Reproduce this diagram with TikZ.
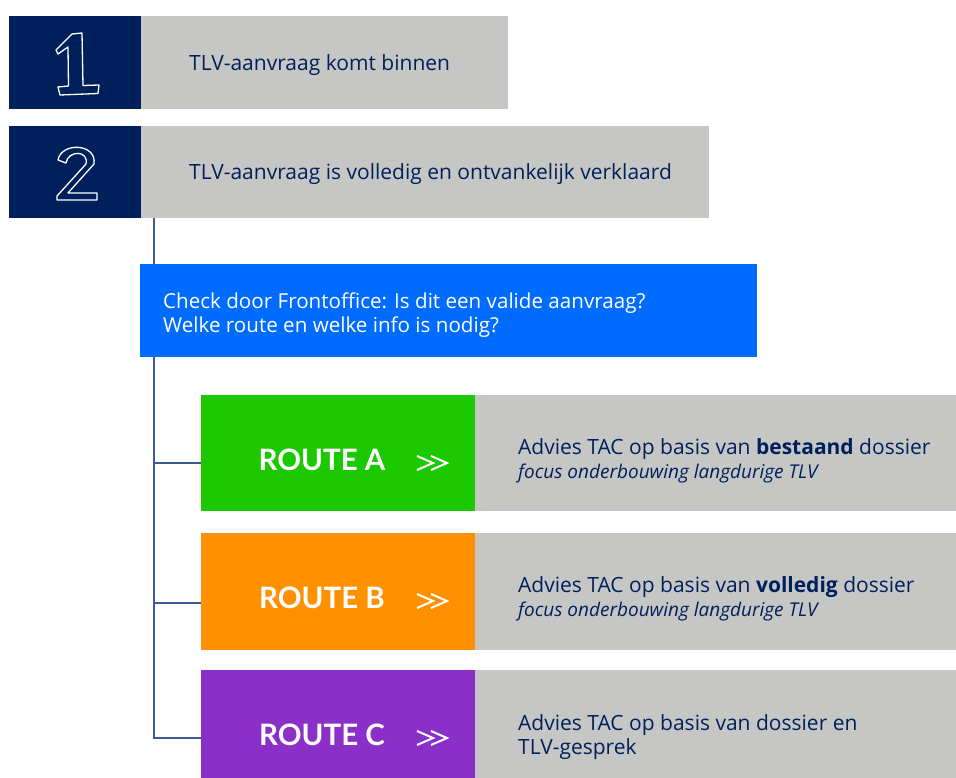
\documentclass[tikz,border=0pt]{standalone}
\usepackage{fontspec}
\setmainfont{Open Sans}
\newfontfamily\routefont{Lato}
\usetikzlibrary{backgrounds}

\definecolor{navy}{HTML}{00205B}
\definecolor{tlvgray}{HTML}{C6C6C5}
\definecolor{tlvblue}{HTML}{006CFF}
\definecolor{routeA}{HTML}{1CC800}
\definecolor{routeB}{HTML}{FF9100}
\definecolor{routeC}{HTML}{8A30C8}
\definecolor{lijnkleur}{HTML}{3B5A96}

\newcommand{\focus}{{\itshape\fontsize{19}{24}\selectfont focus onderbouwing langdurige TLV}}

\tikzset{
  vak/.style={rectangle, inner sep=0pt, outer sep=0pt, anchor=north west},
  tekst/.style={anchor=west, align=left, inner sep=0pt, text=navy,
    font=\fontsize{21}{24}\selectfont},
  routetekst/.style={inner sep=0pt, text=white,
    font=\routefont\bfseries\fontsize{29.5}{32}\selectfont},
  lijn/.style={draw=lijnkleur, line width=1.8pt},
  cijfer/.style={draw=white, line width=1.3pt, line join=round}
}

\begin{document}
\begin{tikzpicture}[x=1pt, y=-1pt]
	\useasboundingbox (0,0) rectangle (956,778);
	% stap 1 en 2
	\node[vak, fill=navy, minimum width=132pt, minimum height=93pt] (n1) at (9,16) {};
	\node[vak, fill=tlvgray, minimum width=367pt, minimum height=93pt] (s1) at (141,16) {};
	\node[tekst] (t1) at (189,65) {TLV-aanvraag komt binnen};
	\node[vak, fill=navy, minimum width=132pt, minimum height=92pt] (n2) at (9,126) {};
	\node[vak, fill=tlvgray, minimum width=568pt, minimum height=92pt] (s2) at (141,126) {};
	\node[tekst] (t2) at (189,174) {TLV-aanvraag is volledig en ontvankelijk verklaard};
	% handgetekende cijfers
	\draw[cijfer] (72,34) -- (56,50) -- (58,54) -- (68,47) -- (68.5,86) -- (58,87)
		-- (60,95) -- (98,93.5) -- (99,85) -- (83,85.5) -- (82,33) -- cycle;
	\draw[cijfer] (58,160) .. controls (61,142) and (97,143) .. (94,164) -- (68,193)
		-- (97,193) -- (97,200) -- (57,200) -- (57,196) -- (86,164)
		.. controls (89,150) and (68,150) .. (66,163) -- cycle;
	% frontoffice
	\node[vak, fill=tlvblue, minimum width=617pt, minimum height=93pt] (fo) at (140,264) {};
	\node[tekst, text=white, font=\fontsize{20.6}{24}\selectfont] (tfo) at (163,315) {Check door Frontoffice: Is dit een valide aanvraag?\\Welke route en welke info is nodig?};
	% routes
	\node[vak, fill=routeA, minimum width=274pt, minimum height=116pt] (ra) at (201,395) {};
	\node[vak, fill=tlvgray, minimum width=481pt, minimum height=116pt] (sa) at (475,395) {};
	\node[routetekst] (la) at (322,460) {ROUTE A};
	\node[tekst] (ta) at (518,461) {Advies TAC op basis van \textbf{bestaand} dossier\\\focus};
	\node[vak, fill=routeB, minimum width=274pt, minimum height=117pt] (rb) at (201,533) {};
	\node[vak, fill=tlvgray, minimum width=481pt, minimum height=117pt] (sb) at (475,533) {};
	\node[routetekst] (lb) at (322,598) {ROUTE B};
	\node[tekst] (tb) at (518,599) {Advies TAC op basis van \textbf{volledig} dossier\\\focus};
	\node[vak, fill=routeC, minimum width=274pt, minimum height=108pt] (rc) at (201,670) {};
	\node[vak, fill=tlvgray, minimum width=481pt, minimum height=108pt] (sc) at (475,670) {};
	\node[routetekst] (lc) at (322,735) {ROUTE C};
	\node[tekst] (tc) at (518,737) {Advies TAC op basis van dossier en\\TLV-gesprek};
	% pijltjes
	\foreach \y in {463,601,738} {
		\draw[white, line width=2pt] (417,\y-7) -- (433,\y) -- (417,\y+7);
		\draw[white, line width=2pt] (431,\y-7) -- (447,\y) -- (431,\y+7);
	}
	% verbindingslijnen
	\coordinate (stam) at ([xshift=13pt]s2.south west);
	\begin{scope}[on background layer]
		\draw[lijn] (stam) |- ([yshift=-3pt]ra.west |- la);
		\draw[lijn] (stam) |- ([yshift=-5pt]rb.west |- lb);
		\draw[lijn] (stam) |- ([yshift=-3pt]rc.west |- lc);
	\end{scope}
\end{tikzpicture}
\end{document}
